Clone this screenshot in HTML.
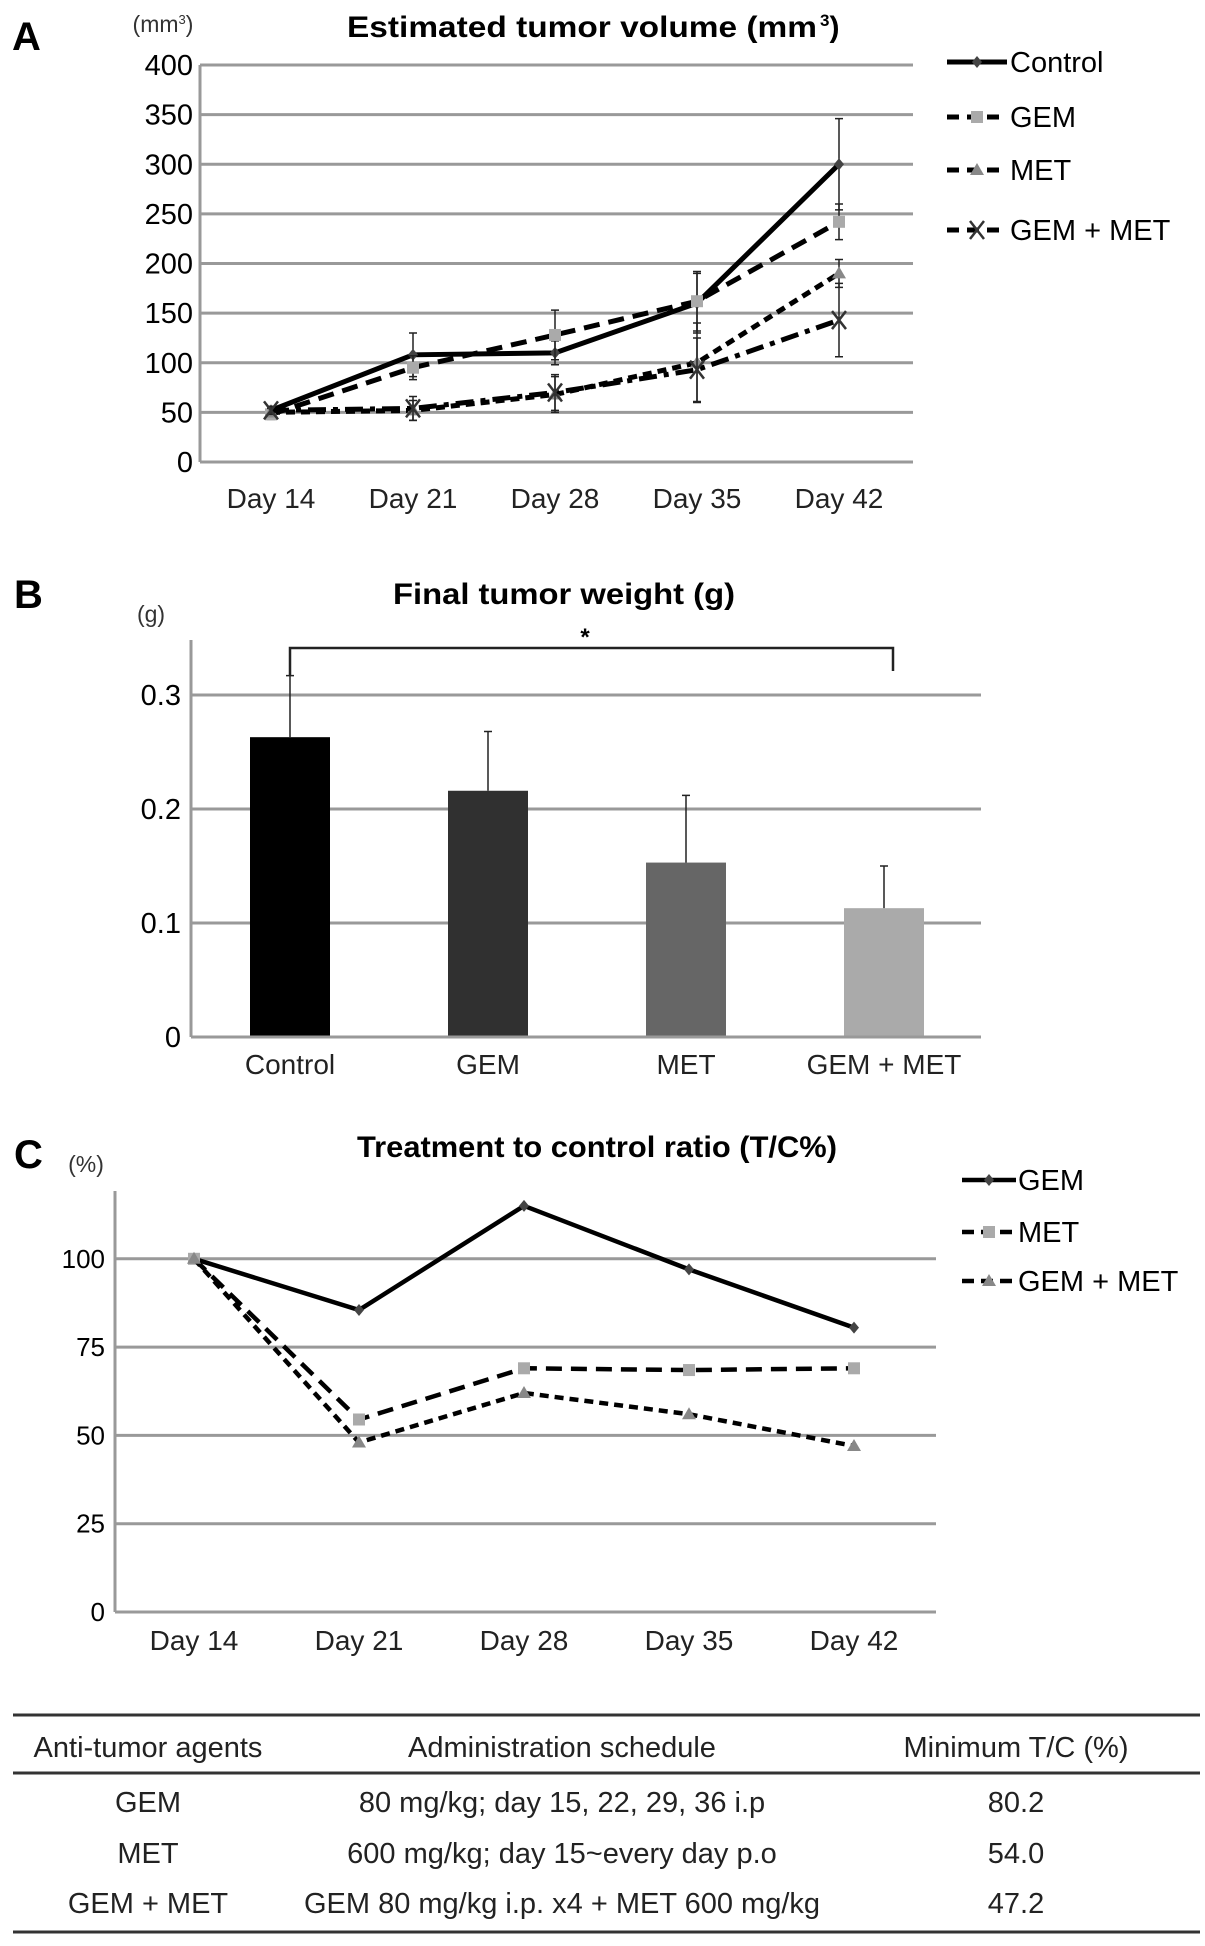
<!DOCTYPE html>
<html><head><meta charset="utf-8"><style>
html,body{margin:0;padding:0;background:#fff;}
svg{display:block;font-family:"Liberation Sans",Arial,sans-serif;}
</style></head><body>
<svg id="fig" width="1205" height="1946" viewBox="0 0 1205 1946" xmlns="http://www.w3.org/2000/svg">
<g id="panelA"></g>
<g id="panelB"></g>
<g id="panelC"></g>
<g id="table"></g>
</svg>
<script>
// ---------- Data ----------
const daysA = ["Day 14","Day 21","Day 28","Day 35","Day 42"];
const ticksA = [0,50,100,150,200,250,300,350,400];
const controlA = [52,108,110,160,300];
const gemA = [48,95,128,162,242];
const metA = [50,52,68,100,190];
const comboA = [52,54,70,93,143];
const controlErrA = [4,22,12,30,46];
const gemErrA = [5,12,25,30,18];
const metErrA = [4,10,18,40,14];
const comboErrA = [4,12,18,32,37];

const groupsB = ["Control","GEM","MET","GEM + MET"];
const weightsB = [0.263,0.216,0.153,0.113];
const errB = [0.054,0.052,0.059,0.037];
const ticksB = [0,0.1,0.2,0.3];
const tickLabelsB = ["0","0.1","0.2","0.3"];

const daysC = ["Day 14","Day 21","Day 28","Day 35","Day 42"];
const ticksC = [0,25,50,75,100];
const gemC = [100,85.5,115,97,80.5];
const metC = [100,54.5,69,68.5,69];
const comboC = [100,48,62,56,47];

const tableHeader = ["Anti-tumor agents","Administration schedule","Minimum T/C (%)"];
const tableAgents = ["GEM","MET","GEM + MET"];
const tableSchedules = ["80 mg/kg; day 15, 22, 29, 36 i.p","600 mg/kg; day 15~every day p.o","GEM 80 mg/kg i.p. x4 + MET 600 mg/kg"];
const tableMinTC = ["80.2","54.0","47.2"];

// ---------- Helpers ----------
const NS="http://www.w3.org/2000/svg";
function mk(parent,tag,attrs,text){
  const e=document.createElementNS(NS,tag);
  for(const k in attrs) e.setAttribute(k,attrs[k]);
  if(text!==undefined) e.textContent=text;
  parent.appendChild(e);
  return e;
}
function marker(g,type,x,y,color){
  let m;
  if(type==="diamond"){
    m=mk(g,"polygon",{points:`${x},${y-6} ${x+5},${y} ${x},${y+6} ${x-5},${y}`,fill:color});
  } else if(type==="square"){
    m=mk(g,"rect",{x:x-6,y:y-6,width:12,height:12,fill:color});
  } else if(type==="triangle"){
    m=mk(g,"polygon",{points:`${x},${y-7} ${x+7},${y+5} ${x-7},${y+5}`,fill:color});
  } else {
    m=mk(g,"path",{d:`M${x-7},${y-9}L${x+7},${y+9}M${x+7},${y-9}L${x-7},${y+9}`,stroke:color,"stroke-width":2.5,fill:"none"});
  }
  return m;
}

// ---------- Panel A ----------
(function(){
  const g=document.getElementById("panelA");
  const L=200,R=913,T=65,B=462;
  const y=v=>B-(v/400)*(B-T);
  const x=i=>271+i*142;
  let t=mk(g,"text",{x:12,y:50,"font-size":40,"font-weight":"bold"},"A");
  
  
  t=mk(g,"text",{x:347,y:37,"font-size":30,"font-weight":"bold",textLength:470,lengthAdjust:"spacingAndGlyphs"},"Estimated tumor volume (mm");
  
  
  t=mk(g,"text",{x:820,y:37,"font-size":30,"font-weight":"bold"});
  t.innerHTML='<tspan font-size="17" dy="-11">3</tspan><tspan dy="11">)</tspan>';
  
  
  t=mk(g,"text",{x:163,y:32,"font-size":23,"text-anchor":"middle",fill:"#333"});
  t.innerHTML='(mm<tspan font-size="13" dy="-8">3</tspan><tspan dy="8">)</tspan>';
  
  
  ticksA.forEach(v=>{
    const gl=mk(g,"line",{x1:L,x2:R,y1:y(v),y2:y(v),stroke:"#999","stroke-width":3});
    
    
    const tl=mk(g,"text",{x:L-7,y:y(v)+10,"font-size":29,"text-anchor":"end"},String(v));
    
    
  });
  const ax=mk(g,"line",{x1:L,x2:L,y1:T,y2:B,stroke:"#999","stroke-width":3});
  
  
  daysA.forEach((d,i)=>{
    const tl=mk(g,"text",{x:x(i),y:508,"font-size":28,"text-anchor":"middle",fill:"#222"},d);
    
    
  });
  const series=[
    {name:"Control",vals:controlA,err:controlErrA,dash:"none",m:"diamond",mc:"#444"},
    {name:"GEM",vals:gemA,err:gemErrA,dash:"16 9",m:"square",mc:"#aaa"},
    {name:"MET",vals:metA,err:metErrA,dash:"9 6",m:"triangle",mc:"#888"},
    {name:"GEM + MET",vals:comboA,err:comboErrA,dash:"18 7 5 7",m:"x",mc:"#333"}
  ];
  series.forEach((s,si)=>{
    const sg=mk(g,"g",{});
    
    
    s.vals.forEach((v,i)=>{
      const e=mk(sg,"path",{d:`M${x(i)},${y(v-s.err[i])}V${y(v+s.err[i])}M${x(i)-4},${y(v-s.err[i])}h8M${x(i)-4},${y(v+s.err[i])}h8`,stroke:"#222","stroke-width":1.5,fill:"none"});
      
      
    });
    const pts=s.vals.map((v,i)=>`${x(i)},${y(v)}`).join(" ");
    const pl=mk(sg,"polyline",{points:pts,fill:"none",stroke:"#000","stroke-width":5,"stroke-dasharray":s.dash});
    
    
    s.vals.forEach((v,i)=>{
      const p=marker(sg,s.m,x(i),y(v),s.mc);
      
      
    });
    const ly=[62,117,170,230][si];
    const lg=mk(g,"g",{});
    
    
    mk(lg,"line",{x1:947,x2:1007,y1:ly,y2:ly,stroke:"#000","stroke-width":5,"stroke-dasharray":s.dash==="none"?"none":"12 8"});
    marker(lg,s.m,977,ly,s.mc);
    mk(lg,"text",{x:1010,y:ly+10,"font-size":29},s.name);
  });
})();

// ---------- Panel B ----------
(function(){
  const g=document.getElementById("panelB");
  const L=191,R=981,T=640,B=1037;
  const y=v=>B-(v/0.1)*114;
  const x=i=>290+i*198;
  let t=mk(g,"text",{x:14,y:608,"font-size":40,"font-weight":"bold"},"B");
  
  
  t=mk(g,"text",{x:564,y:604,"font-size":30,"font-weight":"bold","text-anchor":"middle",textLength:342,lengthAdjust:"spacingAndGlyphs"},"Final tumor weight (g)");
  
  
  t=mk(g,"text",{x:151,y:622,"font-size":23,"text-anchor":"middle",fill:"#333"},"(g)");
  
  
  ticksB.forEach((v,i)=>{
    if(v>0){
      const gl=mk(g,"line",{x1:L,x2:R,y1:y(v),y2:y(v),stroke:"#999","stroke-width":3});
      
      
    }
    const tl=mk(g,"text",{x:L-10,y:y(v)+10,"font-size":29,"text-anchor":"end"},tickLabelsB[i]);
    
    
  });
  const fills=["#000","#303030","#666","#aaa"];
  weightsB.forEach((v,i)=>{
    const r=mk(g,"rect",{x:x(i)-40,y:y(v),width:80,height:B-y(v),fill:fills[i]});
    
    
    const e=mk(g,"path",{d:`M${x(i)},${y(v)}V${y(v+errB[i])}M${x(i)-4},${y(v+errB[i])}h8`,stroke:"#222","stroke-width":1.5,fill:"none"});
    
    
    const tl=mk(g,"text",{x:x(i),y:1074,"font-size":28,"text-anchor":"middle",fill:"#222"},groupsB[i]);
    
    
  });
  const base=mk(g,"line",{x1:L,x2:R,y1:B,y2:B,stroke:"#999","stroke-width":3});
  
  
  const ax=mk(g,"line",{x1:L,x2:L,y1:T,y2:B,stroke:"#999","stroke-width":3});
  
  
  const br=mk(g,"path",{d:`M${x(0)},${y(weightsB[0]+errB[0])}V648H${x(3)+9}V671`,stroke:"#222","stroke-width":2.5,fill:"none"});
  
  
  const st=mk(g,"text",{x:585,y:645,"font-size":24,"font-weight":"bold","text-anchor":"middle"},"*");
  
  
})();

// ---------- Panel C ----------
(function(){
  const g=document.getElementById("panelC");
  const L=115,R=936,T=1191,B=1612;
  const y=v=>B-(v/25)*88.3;
  const x=i=>194+i*165;
  let t=mk(g,"text",{x:14,y:1168,"font-size":40,"font-weight":"bold"},"C");
  
  
  t=mk(g,"text",{x:597,y:1157,"font-size":30,"font-weight":"bold","text-anchor":"middle",textLength:480,lengthAdjust:"spacingAndGlyphs"},"Treatment to control ratio (T/C%)");
  
  
  t=mk(g,"text",{x:86,y:1172,"font-size":23,"text-anchor":"middle",fill:"#333"},"(%)");
  
  
  ticksC.forEach(v=>{
    const gl=mk(g,"line",{x1:L,x2:R,y1:y(v),y2:y(v),stroke:"#999","stroke-width":3});
    
    
    const tl=mk(g,"text",{x:L-10,y:y(v)+9,"font-size":26,"text-anchor":"end"},String(v));
    
    
  });
  const ax=mk(g,"line",{x1:L,x2:L,y1:T,y2:B,stroke:"#999","stroke-width":3});
  
  
  daysC.forEach((d,i)=>{
    const tl=mk(g,"text",{x:x(i),y:1650,"font-size":28,"text-anchor":"middle",fill:"#222"},d);
    
    
  });
  const series=[
    {name:"GEM",vals:gemC,dash:"none",m:"diamond",mc:"#444"},
    {name:"MET",vals:metC,dash:"16 9",m:"square",mc:"#aaa"},
    {name:"GEM + MET",vals:comboC,dash:"9 6",m:"triangle",mc:"#888"}
  ];
  series.forEach((s,si)=>{
    const sg=mk(g,"g",{});
    
    
    const pl=mk(sg,"polyline",{points:s.vals.map((v,i)=>`${x(i)},${y(v)}`).join(" "),fill:"none",stroke:"#000","stroke-width":4.5,"stroke-dasharray":s.dash});
    
    
    s.vals.forEach((v,i)=>{
      const p=marker(sg,s.m,x(i),y(v),s.mc);
      
      
    });
    const ly=[1180,1232,1281][si];
    const lg=mk(g,"g",{});
    
    
    mk(lg,"line",{x1:962,x2:1016,y1:ly,y2:ly,stroke:"#000","stroke-width":4.5,"stroke-dasharray":s.dash==="none"?"none":"12 7"});
    marker(lg,s.m,989,ly,s.mc);
    mk(lg,"text",{x:1018,y:ly+10,"font-size":29},s.name);
  });
})();

// ---------- Table ----------
(function(){
  const g=document.getElementById("table");
  [1715,1773,1932].forEach(yy=>{
    const l=mk(g,"line",{x1:13,x2:1200,y1:yy,y2:yy,stroke:"#333","stroke-width":3});
    
    
  });
  const cx=[148,562,1016];
  tableHeader.forEach((h,i)=>{
    const t=mk(g,"text",{x:cx[i],y:1757,"font-size":29,"text-anchor":"middle",fill:"#222"},h);
    
    
  });
  const rowsY=[1812,1863,1913];
  tableAgents.forEach((a,r)=>{
    [a,tableSchedules[r],tableMinTC[r]].forEach((c,i)=>{
      const t=mk(g,"text",{x:cx[i],y:rowsY[r],"font-size":29,"text-anchor":"middle",fill:"#222"},c);
      
      
    });
  });
})();
</script>
</body></html>
